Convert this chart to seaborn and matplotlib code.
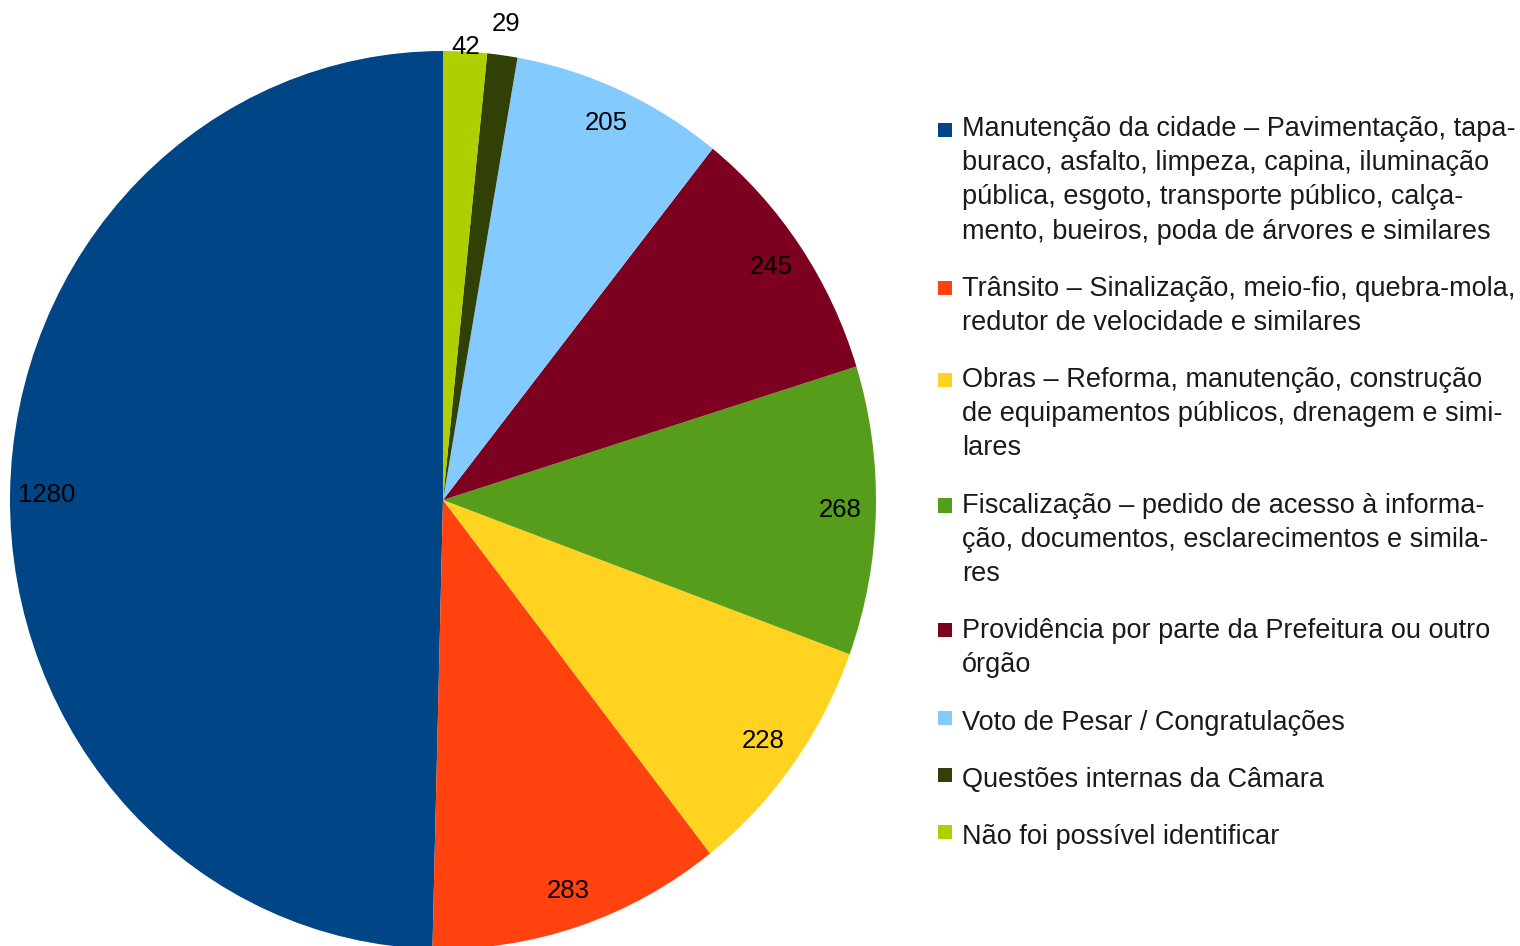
import matplotlib
matplotlib.use("Agg")
import matplotlib.pyplot as plt
from matplotlib.legend_handler import HandlerPatch
from matplotlib.patches import Rectangle
import numpy as np
import seaborn as sns

categories = [
    "Manutenção da cidade – Pavimentação, tapa-\nburaco, asfalto, limpeza, capina, iluminação\npública, esgoto, transporte público, calça-\nmento, bueiros, poda de árvores e similares",
    "Trânsito – Sinalização, meio-fio, quebra-mola,\nredutor de velocidade e similares",
    "Obras – Reforma, manutenção, construção\nde equipamentos públicos, drenagem e simi-\nlares",
    "Fiscalização – pedido de acesso à informa-\nção, documentos, esclarecimentos e simila-\nres",
    "Providência por parte da Prefeitura ou outro\nórgão",
    "Voto de Pesar / Congratulações",
    "Questões internas da Câmara",
    "Não foi possível identificar",
]
values = [1280, 283, 228, 268, 245, 205, 29, 42]
colors = ["#004586", "#ff420e", "#ffd320", "#579d1c", "#7e0021", "#83caff", "#314004", "#aecf00"]
label_dist = [0.915, 0.918, 0.915, 0.918, 0.918, 0.92, 1.07, 1.01]

sns.set_theme(style="white")
plt.rcParams["font.family"] = ["Liberation Sans", "DejaVu Sans"]

LEG_FS = 19.5
LINESP = 1.41


class TopSquare(HandlerPatch):
    # square lined up with the first line of a multi-line label
    def __init__(self, nlines, **kw):
        super().__init__(**kw)
        self.nlines = nlines

    def create_artists(self, legend, orig_handle, xdescent, ydescent,
                       width, height, fontsize, trans):
        shift = (self.nlines - 1) / 2 * 0.855 * LINESP * fontsize + 1.5
        side = width
        p = Rectangle((-xdescent, -ydescent + (height - side) / 2 + shift), side, side,
                      facecolor=orig_handle.get_facecolor(), edgecolor="none",
                      transform=trans)
        return [p]


fig = plt.figure(figsize=(15.2, 9.46), dpi=100)
ax = fig.add_axes([10 / 1520, -3 / 946, 866 / 1520, 898 / 946])

wedges, texts = ax.pie(values, labels=[str(v) for v in values], colors=colors,
                       startangle=90, counterclock=True, labeldistance=0.92,
                       wedgeprops=dict(linewidth=0),
                       textprops=dict(fontsize=18.5, color="black"))
ax.set_aspect("auto")
ax.set_xlim(-1, 1)
ax.set_ylim(-1, 1)

for w, t, r in zip(wedges, texts, label_dist):
    ang = np.deg2rad((w.theta1 + w.theta2) / 2)
    t.set_position((r * np.cos(ang), r * np.sin(ang)))
    t.set_ha("center")
    t.set_va("center")

hmap = {w: TopSquare(lab.count("\n") + 1) for w, lab in zip(wedges, categories)}
leg = fig.legend(wedges, categories, loc="upper left",
                 bbox_to_anchor=(938 / 1520, 1 - 116 / 946),
                 frameon=False, fontsize=LEG_FS, borderpad=0, borderaxespad=0,
                 handlelength=0.52, handleheight=0.52, handletextpad=0.37,
                 labelspacing=1.15, handler_map=hmap)
for t in leg.get_texts():
    t.set_linespacing(LINESP)
    t.set_color("#1a1a1a")

fig.savefig("out.png", dpi=100)
